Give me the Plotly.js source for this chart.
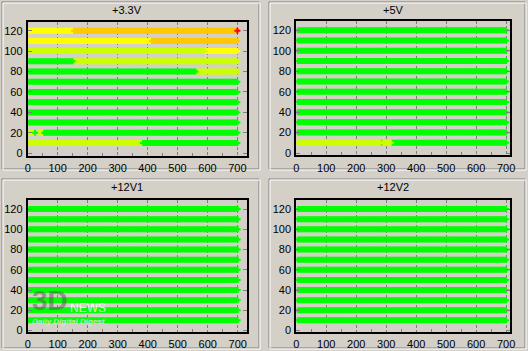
<!DOCTYPE html>
<html><head><meta charset="utf-8">
<script src="https://cdn.plot.ly/plotly-3.0.1.min.js"></script>
<style>html,body{margin:0;padding:0;background:#d4d0c8;overflow:hidden}#chart{width:528px;height:351px}</style>
</head><body><div id="chart"></div><script>
// ---- data ----
const panelTitles = ['+3.3V', '+5V', '+12V1', '+12V2'];
const rowLoads = [120, 110, 100, 90, 80, 70, 60, 50, 40, 30, 20, 10];
const loadGrid = { start: 5, end: 700, step: 5 };
const palette = { G: '#00ff00', L: '#ccff00', Y: '#ffff00', O: '#ffc800', R: '#ff0000' };
const xTicks = [0, 100, 200, 300, 400, 500, 600, 700];
const yTicks = [0, 20, 40, 60, 80, 100, 120];
// colour runs per row (x from, x to, state), rows in rowLoads order
const seg33V = [
  [[5, 150, 'Y'], [155, 695, 'O'], [700, 700, 'R']],
  [[5, 410, 'Y'], [415, 700, 'O']],
  [[5, 590, 'L'], [595, 700, 'Y']],
  [[5, 150, 'G'], [155, 700, 'L']],
  [[5, 560, 'G'], [565, 700, 'L']],
  [[5, 700, 'G']],
  [[5, 700, 'G']],
  [[5, 700, 'G']],
  [[5, 700, 'G']],
  [[5, 700, 'G']],
  [[5, 15, 'L'], [25, 25, 'G'], [35, 50, 'L'], [55, 700, 'G']],
  [[5, 380, 'L'], [385, 700, 'G']]
];
const seg5V = [
  [[5, 700, 'G']], [[5, 700, 'G']], [[5, 700, 'G']], [[5, 700, 'G']],
  [[5, 700, 'G']], [[5, 700, 'G']], [[5, 700, 'G']], [[5, 700, 'G']],
  [[5, 700, 'G']], [[5, 700, 'G']], [[5, 700, 'G']],
  [[5, 280, 'L'], [285, 285, 'G'], [290, 315, 'L'], [320, 700, 'G']]
];
const seg12V1 = [
  [[5, 700, 'G']], [[5, 700, 'G']], [[5, 700, 'G']], [[5, 700, 'G']],
  [[5, 700, 'G']], [[5, 700, 'G']], [[5, 700, 'G']], [[5, 700, 'G']],
  [[5, 700, 'G']], [[5, 700, 'G']], [[5, 700, 'G']], [[5, 700, 'G']]
];
const seg12V2 = [
  [[5, 700, 'G']], [[5, 700, 'G']], [[5, 700, 'G']], [[5, 700, 'G']],
  [[5, 700, 'G']], [[5, 700, 'G']], [[5, 700, 'G']], [[5, 700, 'G']],
  [[5, 700, 'G']], [[5, 700, 'G']], [[5, 700, 'G']], [[5, 700, 'G']]
];
const panelSegs = [seg33V, seg5V, seg12V1, seg12V2];

// ---- layout geometry (pixels) ----
const W = 528, H = 351;
const plotBoxes = [
  { l: 27.7, r: 247, t: 21.7, b: 155.5, xr: [0, 732], yr: [-2.2, 128.8] },
  { l: 296.3, r: 509.7, t: 21.3, b: 155.3, xr: [0, 712], yr: [-2.2, 128.8] },
  { l: 27.7, r: 246.7, t: 200, b: 332, xr: [0, 730], yr: [-1.5, 129] },
  { l: 296.3, r: 509.7, t: 200, b: 332, xr: [0, 712], yr: [-1.5, 129] }
];
const frames = [
  { l: 2, r: 259, t: 2, b: 169 },
  { l: 269, r: 525, t: 2, b: 169 },
  { l: 2, r: 259, t: 179, b: 348 },
  { l: 269, r: 525, t: 179, b: 348 }
];
const px = v => v / W, py = v => 1 - v / H;

const traces = [];
panelSegs.forEach((segs, p) => {
  const groups = {};
  segs.forEach((runs, r) => {
    runs.forEach(([a, b, c]) => {
      for (let x = loadGrid.start; x <= loadGrid.end; x += loadGrid.step) {
        if (x >= a && x <= b) {
          (groups[c] = groups[c] || { x: [], y: [] });
          groups[c].x.push(x); groups[c].y.push(rowLoads[r]);
        }
      }
    });
  });
  Object.keys(groups).forEach(c => {
    traces.push({
      type: 'scatter', mode: 'markers',
      x: groups[c].x, y: groups[c].y,
      xaxis: p === 0 ? 'x' : 'x' + (p + 1), yaxis: p === 0 ? 'y' : 'y' + (p + 1),
      marker: { symbol: 'cross', size: 5, color: palette[c], line: { width: 0 } },
      hoverinfo: 'skip', showlegend: false, cliponaxis: false
    });
  });
});

const font = { family: 'Liberation Sans, Arial, sans-serif', size: 11, color: '#000' };
const layout = {
  width: W, height: H, margin: { l: 0, r: 0, t: 0, b: 0 },
  paper_bgcolor: '#d4d0c8', plot_bgcolor: '#d4d0c8', font: font,
  showlegend: false, shapes: [], annotations: []
};
plotBoxes.forEach((b, i) => {
  const s = i === 0 ? '' : String(i + 1);
  layout['xaxis' + s] = {
    domain: [px(b.l), px(b.r)], range: b.xr, anchor: 'y' + s,
    tickvals: xTicks, showgrid: true, gridcolor: '#808080', griddash: '3px,2px', gridwidth: 1,
    ticks: '', showline: true, linecolor: '#000', linewidth: 2, mirror: true, zeroline: false,
    tickfont: font, ticklabelstandoff: 1,
    minor: { tickvals: [50, 150, 250, 350, 450, 550, 650], ticks: 'inside', ticklen: 3, tickcolor: '#808080', showgrid: false },
    fixedrange: true
  };
  layout['yaxis' + s] = {
    domain: [py(b.b), py(b.t)], range: b.yr, anchor: 'x' + s,
    tickvals: yTicks, showgrid: false, ticks: 'inside', ticklen: 4, tickcolor: '#808080',
    showline: true, linecolor: '#000', linewidth: 2, mirror: 'ticks', zeroline: false,
    tickfont: font, ticklabelstandoff: 1, fixedrange: true
  };
  const f = frames[i];
  layout.shapes.push({ type: 'rect', xref: 'paper', yref: 'paper', x0: px(f.l), x1: px(f.r), y0: py(f.b), y1: py(f.t), line: { color: '#808080', width: 1 }, layer: 'below' });
  layout.shapes.push({ type: 'rect', xref: 'paper', yref: 'paper', x0: px(f.l + 1), x1: px(f.r + 1), y0: py(f.b + 1), y1: py(f.t + 1), line: { color: '#ffffff', width: 1 }, layer: 'below' });
  layout.annotations.push({ xref: 'paper', yref: 'paper', x: px((f.l + f.r) / 2 - 4), y: py(f.t + 8), text: panelTitles[i], showarrow: false, font: { family: font.family, size: 11, color: '#000' }, xanchor: 'center', yanchor: 'middle' });
});
// watermark (partially under the tick labels, as in the reference)
layout.annotations.push({ xref: 'paper', yref: 'paper', x: px(30), y: py(300), text: '<b>3D</b>', showarrow: false, font: { family: 'Liberation Sans, Arial', size: 28, color: 'rgba(90,90,90,0.55)' }, xanchor: 'left', yanchor: 'middle' });
layout.annotations.push({ xref: 'paper', yref: 'paper', x: px(68), y: py(308), text: 'NEWS', showarrow: false, font: { family: 'Liberation Sans, Arial', size: 12, color: 'rgba(255,255,255,0.85)' }, xanchor: 'left', yanchor: 'middle' });
layout.annotations.push({ xref: 'paper', yref: 'paper', x: px(30), y: py(321), text: '<i><b>Daily Digital Digest</b></i>', showarrow: false, font: { family: 'Liberation Sans, Arial', size: 8, color: 'rgba(225,225,225,0.9)' }, xanchor: 'left', yanchor: 'middle' });

Plotly.newPlot('chart', traces, layout, { staticPlot: true, displayModeBar: false });
</script></body></html>
